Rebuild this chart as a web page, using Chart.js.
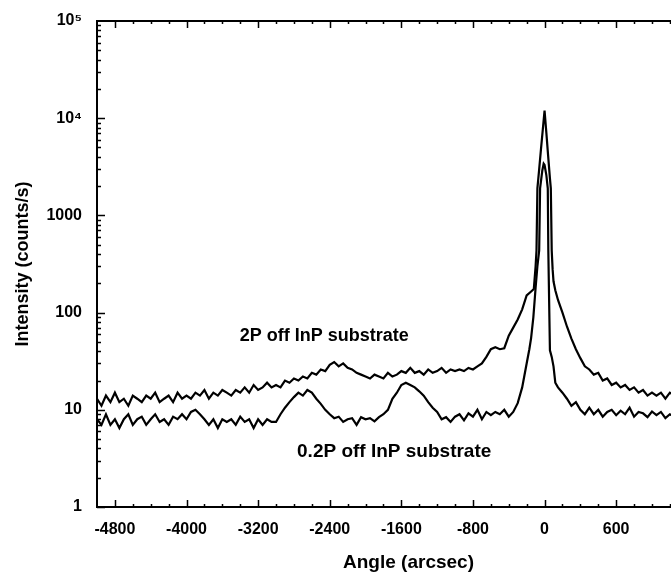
<!DOCTYPE html>
<html>
<head>
<meta charset="utf-8">
<script src="https://cdn.jsdelivr.net/npm/chart.js@4"></script>
<style>
  html, body { margin: 0; padding: 0; background: #fff; overflow: hidden; }
  #wrap { width: 720px; height: 576px; position: relative; }
</style>
</head>
<body>
<div id="wrap"><canvas id="rocking"></canvas></div>
<script>
// ========================== DATA ==========================
// background scan, left of the substrate peak (arcsec)
const scanAngles = [
  -5000, -4950, -4900, -4850, -4800, -4750, -4700, -4650, -4600, -4550,
  -4500, -4450, -4400, -4350, -4300, -4250, -4200, -4150, -4100, -4050,
  -4000, -3950, -3900, -3850, -3800, -3750, -3700, -3650, -3600, -3550,
  -3500, -3450, -3400, -3350, -3300, -3250, -3200, -3150, -3100, -3050,
  -3000, -2950, -2900, -2850, -2800, -2750, -2700, -2650, -2600, -2550,
  -2500, -2450, -2400, -2350, -2300, -2250, -2200, -2150, -2100, -2050,
  -2000, -1950, -1900, -1850, -1800, -1750, -1700, -1650, -1600, -1550,
  -1500, -1450, -1400, -1350, -1300, -1250, -1200, -1150, -1100, -1050,
  -1000, -950, -900, -850, -800, -750, -700, -650, -600, -550,
  -500, -450, -400, -350, -300, -250
];

// 2P off InP substrate (upper trace)
const scanCounts2 = [
  13, 11, 14, 12, 15, 12, 13, 11, 14, 13,
  12, 14, 13, 15, 12, 13, 14, 12, 15, 13,
  14, 13, 15, 14, 16, 13, 15, 14, 16, 15,
  14, 16, 15, 17, 15, 18, 16, 17, 19, 17,
  18, 17, 20, 19, 21, 20, 22, 21, 24, 23,
  26, 25, 29, 31, 28, 30, 27, 26, 24, 23,
  22, 21, 23, 22, 21, 24, 22, 23, 25, 24,
  27, 24, 25, 23, 26, 24, 25, 27, 24, 26,
  25, 26, 25, 27, 26, 28, 30, 35, 42, 44,
  42, 43, 58, 70, 85, 108
];

// 0.2P off InP substrate (lower trace)
const scanCounts02 = [
  8, 7, 9, 7, 8, 6.5, 8, 9, 7, 8,
  8.5, 7, 8, 9, 7.5, 8, 7, 8.5, 8, 9,
  8, 9.5, 10, 9, 8, 7, 8, 6.5, 8, 7.5,
  8, 7, 8.5, 7.5, 8, 6.5, 8, 7, 8, 7.5,
  7.5, 9, 10.5, 12, 13.5, 15, 14, 16, 15, 13,
  11.5, 10, 9, 8.2, 8.5, 7.5, 8, 8.2, 7, 8.4,
  8, 8.2, 7.6, 8.4, 9, 10, 13, 15, 18, 19,
  18, 17, 15.5, 14, 12, 10.5, 9.5, 8, 8.4, 7.5,
  8.5, 9, 7.8, 9.2, 8.5, 10, 8, 9.5, 8.8, 9.5,
  9, 10, 8.5, 9.5, 11.7, 17
];

// substrate peak and right-hand tail
const peakAngles2 = [
  -200, -150, -120, -100, -90, -80, -60, -40, -20, 0,
  20, 40, 60, 70, 80, 90, 100, 120, 150, 200,
  250, 300, 350, 400, 450, 500, 550, 600, 650, 700,
  750, 800, 850, 900, 950, 1000, 1050, 1100, 1150, 1200,
  1250, 1300, 1350, 1400, 1450
];
const peakCounts2 = [
  150, 165, 175, 300, 436, 1900, 3000, 4800, 7600, 12000,
  7100, 4100, 2400, 1900, 436, 280, 210, 170, 135, 100,
  72, 54, 42, 34, 28, 26, 23, 24, 20, 21,
  18, 19, 17, 18, 16, 17, 15, 16, 14, 15,
  14, 15, 13, 15, 14
];

const peakAngles02 = [
  -200, -170, -150, -125, -100, -80, -60, -50, -25, -10,
  0, 20, 36, 42, 60, 80, 100, 120, 150, 200,
  250, 300, 350, 400, 450, 500, 550, 600, 650, 700,
  750, 800, 850, 900, 950, 1000, 1050, 1100, 1150, 1200,
  1250, 1300, 1350, 1400, 1450
];
const peakCounts02 = [
  30, 42, 55, 90, 180, 300, 436, 1900, 2900, 3400,
  3300, 2600, 1900, 436, 41, 35, 28, 19, 17, 15,
  13, 11, 12, 10, 9, 10.5, 9, 10, 8.5, 9.5,
  10, 8.8, 9.8, 9, 10.5, 8.5, 9.5, 9.2, 8.4, 9.6,
  8.8, 9.5, 8.2, 9, 8.5
];

// axes
const xTickValues = [-4800, -4000, -3200, -2400, -1600, -800, 0, 800];
const xTickLabels = ["-4800", "-4000", "-3200", "-2400", "-1600", "-800", "0", "600"];
const yTickValues = [1, 10, 100, 1000, 10000, 100000];
const yTickLabels = ["1", "10", "100", "1000", "10\u2074", "10\u2075"];

// ========================== HELPERS ==========================
function toPoints(xs, ys) {
  return xs.map((x, i) => ({ x, y: ys[i] }));
}

const FONT = "'Liberation Sans', Arial, Helvetica, sans-serif";

// inward tick marks on left, bottom and top
const innerTicks = {
  id: "innerTicks",
  afterDatasetsDraw(chart) {
    const { ctx, chartArea: a, scales: { x, y } } = chart;
    ctx.save();
    ctx.strokeStyle = "#000";
    ctx.lineWidth = 1.5;
    ctx.beginPath();
    for (let d = 0; d < 5; d++) {
      for (let m = 1; m < 10; m++) {
        const py = Math.round(y.getPixelForValue(m * Math.pow(10, d))) + 0.5;
        const len = m === 1 ? 8 : 4;
        ctx.moveTo(a.left, py);
        ctx.lineTo(a.left + len, py);
      }
    }
    for (let v = -4800; v <= 1800; v += 200) {
      const px = Math.round(x.getPixelForValue(v)) + 0.5;
      const len = v % 800 === 0 ? 7 : 3;
      ctx.moveTo(px, a.bottom);
      ctx.lineTo(px, a.bottom - len);
      ctx.moveTo(px, a.top);
      ctx.lineTo(px, a.top + len);
    }
    ctx.stroke();
    ctx.restore();
  }
};

// curve labels, placed in data coordinates
const curveLabels = {
  id: "curveLabels",
  afterDatasetsDraw(chart) {
    const { ctx, scales: { x, y } } = chart;
    ctx.save();
    ctx.fillStyle = "#000";
    ctx.font = "bold 18px " + FONT;
    ctx.textAlign = "center";
    ctx.textBaseline = "middle";
    ctx.fillText("2P off InP substrate", x.getPixelForValue(-2460), y.getPixelForValue(58));
    ctx.font = "bold 19px " + FONT;
    ctx.fillText("0.2P off InP substrate", x.getPixelForValue(-1680), y.getPixelForValue(3.67));
    ctx.restore();
  }
};

// ========================== CHART ==========================
new Chart(document.getElementById("rocking"), {
  type: "line",
  data: {
    datasets: [
      {
        label: "2P off InP substrate",
        data: toPoints(scanAngles.concat(peakAngles2), scanCounts2.concat(peakCounts2)),
        borderColor: "#000",
        borderWidth: 2.2,
        pointRadius: 0,
        tension: 0
      },
      {
        label: "0.2P off InP substrate",
        data: toPoints(scanAngles.concat(peakAngles02), scanCounts02.concat(peakCounts02)),
        borderColor: "#000",
        borderWidth: 2.2,
        pointRadius: 0,
        tension: 0
      }
    ]
  },
  options: {
    responsive: true,
    maintainAspectRatio: false,
    devicePixelRatio: 1,
    animation: false,
    layout: { padding: 0 },
    plugins: {
      legend: { display: false },
      tooltip: { enabled: false }
    },
    scales: {
      x: {
        type: "linear",
        position: "bottom",
        min: -5000,
        max: 1960,
        afterBuildTicks: s => { s.ticks = xTickValues.map(v => ({ value: v })); },
        afterFit: s => { s.height = 69; s.paddingLeft = 0; s.paddingRight = 0; },
        grid: { display: false, drawTicks: false },
        border: { display: true, color: "#000", width: 2 },
        ticks: {
          padding: 13,
          color: "#000",
          font: { family: FONT, size: 16, weight: "bold" },
          maxRotation: 0,
          autoSkip: false,
          callback: (v, i) => xTickLabels[i]
        },
        title: {
          display: true,
          text: "Angle (arcsec)",
          color: "#000",
          font: { family: FONT, size: 19, weight: "bold" },
          padding: { top: 4, bottom: 1.5 }
        }
      },
      xTop: {
        type: "linear",
        position: "top",
        min: -5000,
        max: 1960,
        afterFit: s => { s.height = 21; },
        grid: { display: false, drawTicks: false },
        border: { display: true, color: "#000", width: 2 },
        ticks: { display: false }
      },
      y: {
        type: "logarithmic",
        min: 1,
        max: 100000,
        afterBuildTicks: s => { s.ticks = yTickValues.map(v => ({ value: v })); },
        afterFit: s => { s.width = 97; s.paddingTop = 0; s.paddingBottom = 0; },
        grid: { display: false, drawTicks: false },
        border: { display: true, color: "#000", width: 2 },
        ticks: {
          padding: 15,
          color: "#000",
          font: { family: FONT, size: 16, weight: "bold" },
          autoSkip: false,
          callback: (v, i) => yTickLabels[i]
        },
        title: {
          display: true,
          text: "Intensity (counts/s)",
          color: "#000",
          font: { family: FONT, size: 18, weight: "bold" },
          padding: { top: 12, bottom: 0 }
        }
      }
    }
  },
  plugins: [innerTicks, curveLabels]
});
</script>
</body>
</html>
